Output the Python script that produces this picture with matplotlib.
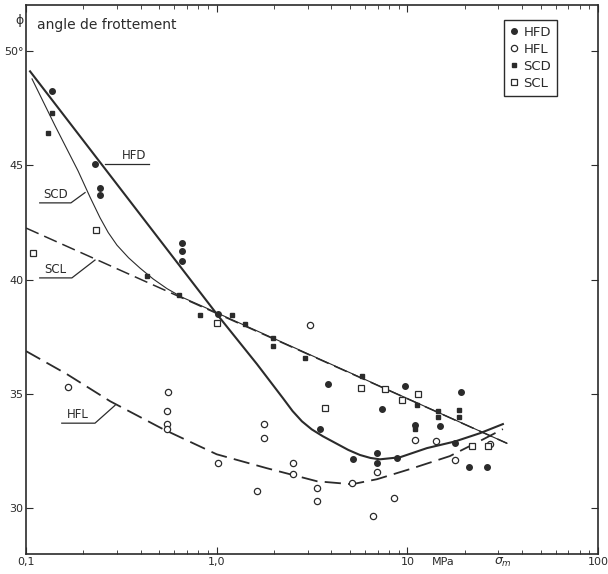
import numpy as np
import matplotlib.pyplot as plt

# measured points (sigma_m in MPa, friction angle in degrees)
hfd_x = [0.137, 0.23, 0.243, 0.243, 0.658, 0.658, 0.658, 1.01, 3.48, 3.83, 5.18,
         6.93, 6.9, 8.82, 7.36, 11.0, 14.9, 17.8, 21.0, 26.1, 19.1, 9.7]
hfd_y = [48.25, 45.05, 44.0, 43.7, 41.6, 41.25, 40.8, 38.5, 33.46, 35.43, 32.14,
         32.4, 32.0, 32.19, 34.33, 33.66, 33.6, 32.84, 31.8, 31.8, 35.08, 35.34]

scd_x = [0.137, 0.13, 0.431, 0.634, 0.817, 1.21, 1.41, 1.97, 1.97, 2.9, 5.78,
         14.5, 14.5, 18.6, 18.6, 11.2, 11.0]
scd_y = [47.3, 46.4, 40.15, 39.32, 38.45, 38.45, 38.05, 37.45, 37.1, 36.56, 35.8,
         34.24, 34.0, 34.3, 34.0, 34.5, 33.46]

scl_x = [0.109, 0.233, 1.0, 3.70, 5.7, 7.63, 9.37, 11.4, 21.8, 26.5]
scl_y = [41.16, 42.17, 38.1, 34.38, 35.25, 35.2, 34.73, 34.99, 32.71, 32.71]

hfl_x = [0.166, 0.555, 0.549, 0.549, 0.549, 1.01, 1.62, 1.78, 1.78, 2.5, 2.5,
         3.08, 3.36, 3.36, 5.12, 6.6, 6.9, 8.51, 11.0, 14.2, 17.8, 27.0]
hfl_y = [35.3, 35.08, 34.25, 33.7, 33.46, 31.97, 30.74, 33.7, 33.06, 31.97, 31.5,
         38.0, 30.88, 30.3, 31.1, 29.65, 31.6, 30.44, 32.98, 32.93, 32.1, 32.8]

# fitted curves
hfd_cx = [0.105, 1.01, 1.627, 2.227, 2.5, 2.8, 3.15, 3.6, 4.2, 4.9, 5.64, 6.4,
          7.18, 9.15, 12.67, 17.77, 24.0, 31.7]
hfd_cy = [49.1, 38.45, 36.3, 34.81, 34.25, 33.8, 33.45, 33.15, 32.85, 32.55, 32.33,
          32.2, 32.14, 32.23, 32.63, 32.92, 33.28, 33.68]

scd_cx = [0.1075, 0.142, 0.1874, 0.2167, 0.2444, 0.270, 0.300, 0.345, 0.396, 0.465,
          0.549, 0.66, 0.817, 1.01, 33.3]
scd_cy = [48.77, 46.72, 44.75, 43.6, 42.7, 42.05, 41.5, 40.95, 40.5, 40.02,
          39.6, 39.22, 38.88, 38.53, 32.84]

scl_cx = [0.1, 33.3]
scl_cy = [42.25, 32.84]

hfl_cx = [0.1, 0.164, 0.276, 0.523, 1.0, 1.835, 3.36, 5.12, 6.93, 10.3, 16.7,
          24.0, 31.7]
hfl_cy = [36.87, 35.86, 34.68, 33.46, 32.36, 31.75, 31.18, 31.05, 31.27, 31.71,
          32.28, 32.94, 33.46]

ink = "#2b2b2b"

fig = plt.figure(figsize=(6.08, 5.74), dpi=100)
ax = fig.add_axes([0.0428, 0.0348, 0.9408, 0.9565])

ax.plot(hfd_cx, hfd_cy, "-", color=ink, lw=1.5)
ax.plot(scd_cx, scd_cy, "-", color=ink, lw=0.8)
ax.plot(scl_cx, scl_cy, color=ink, lw=1.1, dashes=(9, 4))
ax.plot(hfl_cx, hfl_cy, color=ink, lw=1.3, dashes=(9, 4))

ax.plot(hfd_x, hfd_y, "o", ms=4, color=ink, label="HFD")
ax.plot(hfl_x, hfl_y, "o", ms=4.5, mfc="white", mec=ink, mew=0.9, label="HFL")
ax.plot(scd_x, scd_y, "s", ms=3.2, color=ink, label="SCD")
ax.plot(scl_x, scl_y, "s", ms=4.5, mfc="white", mec=ink, mew=0.9, label="SCL")

ax.set_xscale("log")
ax.set_xlim(0.1, 100)
ax.set_ylim(28, 52)

ax.set_xticks([0.1, 1, 10, 100])
ax.set_xticklabels(["0,1", "1,0", "10", "100"])
ax.set_yticks([30, 35, 40, 45, 50])
ax.set_yticklabels(["30", "35", "40", "45", "50°"])
ax.tick_params(which="both", direction="in", top=True, right=True, labelsize=8,
               color=ink, labelcolor=ink)
ax.tick_params(which="major", length=5, pad=2)
ax.tick_params(which="minor", length=3)
ax.tick_params(axis="y", which="minor", left=False, right=False)
for s in ax.spines.values():
    s.set_color(ink)
    s.set_linewidth(1.2)

ax.text(-0.004, 0.972, "ϕ", transform=ax.transAxes, fontsize=9, color=ink,
        ha="right", va="center")
ax.text(0.019, 0.963, "angle de frottement", transform=ax.transAxes, fontsize=10,
        color=ink, ha="left", va="center")

xlab = ax.get_xaxis_transform()
ax.text(15.4, -0.006, "MPa", transform=xlab, fontsize=8, color=ink,
        ha="center", va="top")
ax.text(31.6, -0.004, r"$\sigma_m$", transform=xlab, fontsize=9, color=ink,
        ha="center", va="top")

# curve labels with leaders
ax.plot([0.26, 0.44], [45.05, 45.05], color=ink, lw=0.9)
ax.text(0.37, 45.15, "HFD", fontsize=8.5, color=ink, ha="center", va="bottom")
ax.plot([0.118, 0.172, 0.204], [43.35, 43.35, 43.8], color=ink, lw=0.9)
ax.text(0.143, 43.45, "SCD", fontsize=8.5, color=ink, ha="center", va="bottom")
ax.plot([0.118, 0.174, 0.23], [40.07, 40.07, 40.85], color=ink, lw=0.9)
ax.text(0.143, 40.17, "SCL", fontsize=8.5, color=ink, ha="center", va="bottom")
ax.plot([0.154, 0.23, 0.293], [33.72, 33.72, 34.5], color=ink, lw=0.9)
ax.text(0.186, 33.82, "HFL", fontsize=8.5, color=ink, ha="center", va="bottom")

leg = ax.legend(loc="upper right", bbox_to_anchor=(0.94, 0.985), fontsize=9.5,
                handlelength=0.6, handletextpad=0.4, borderpad=0.45,
                labelspacing=0.3, fancybox=False, edgecolor=ink, framealpha=1)
leg.get_frame().set_linewidth(1.0)
for t in leg.get_texts():
    t.set_color(ink)

fig.savefig("out.png", dpi=100)
